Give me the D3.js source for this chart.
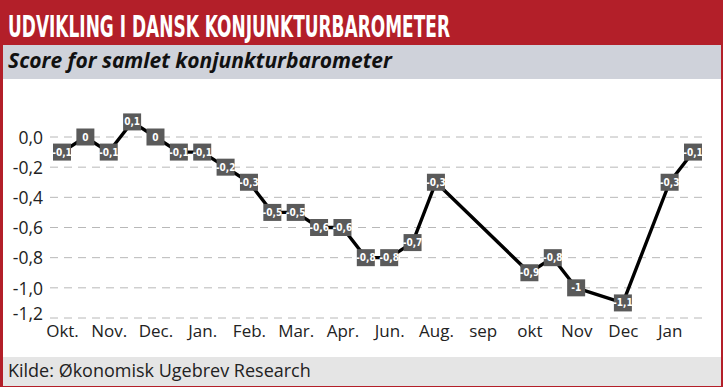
<!DOCTYPE html>
<html>
<head>
<meta charset="utf-8">
<script src="https://cdn.jsdelivr.net/npm/d3@7"></script>
<style>
  html, body { margin: 0; padding: 0; background: #fff; }
  svg { display: block; }
</style>
</head>
<body>
<svg id="chart" width="723" height="387"></svg>
<script>
// Month labels on the x axis (every other slot carries a label)
const tickLabels = ["Okt.", "Nov.", "Dec.", "Jan.", "Feb.", "Mar.", "Apr.", "Jun.", "Aug.", "sep", "okt", "Nov", "Dec", "Jan"];
const tickSlots = [0, 2, 4, 6, 8, 10, 12, 14, 16, 18, 20, 22, 24, 26];

// Survey rounds: time slot of each observation and its score
const pointSlots = [0, 1, 2, 3, 4, 5, 6, 7, 8, 9, 10, 11, 12, 13, 14, 15, 16, 20, 21, 22, 24, 26, 27];
const scores = [-0.1, 0, -0.1, 0.1, 0, -0.1, -0.1, -0.2, -0.3, -0.5, -0.5, -0.6, -0.6, -0.8, -0.8, -0.7, -0.3, -0.9, -0.8, -1, -1.1, -0.3, -0.1];

// Value axis ticks
const yTicks = [0, -0.2, -0.4, -0.6, -0.8, -1.0, -1.2];

const W = 723, H = 387;
const red = "#b31f29";
const svg = d3.select("#chart");
const bodyFont = "'Open Sans', 'Noto Sans', sans-serif";

// Frame and header bands
svg.append("rect").attr("x", 0).attr("y", 0).attr("width", W).attr("height", H).attr("fill", red);
svg.append("rect").attr("x", 3).attr("y", 45).attr("width", W - 5).attr("height", H - 46).attr("fill", "#ffffff");
svg.append("rect").attr("x", 3).attr("y", 45).attr("width", W - 5).attr("height", 34).attr("fill", "#cfd2da");
svg.append("rect").attr("x", 3).attr("y", 357).attr("width", W - 5).attr("height", 29).attr("fill", "#e5e5e5");

svg.append("text")
  .attr("x", 8).attr("y", 37)
  .attr("fill", "#ffffff")
  .attr("font-family", "'Liberation Sans Narrow', 'DejaVu Sans Condensed', sans-serif")
  .attr("font-weight", "bold")
  .attr("font-size", 30)
  .attr("textLength", 442)
  .attr("lengthAdjust", "spacingAndGlyphs")
  .text("UDVIKLING I DANSK KONJUNKTURBAROMETER");

svg.append("text")
  .attr("x", 8).attr("y", 68)
  .attr("fill", "#111")
  .attr("font-family", bodyFont)
  .attr("font-weight", "bold")
  .attr("font-style", "italic")
  .attr("font-size", 21)
  .text("Score for samlet konjunkturbarometer");

svg.append("text")
  .attr("x", 8).attr("y", 377)
  .attr("fill", "#222")
  .attr("font-family", bodyFont)
  .attr("font-size", 18)
  .text("Kilde: Økonomisk Ugebrev Research");

// Scales
const x = d3.scaleLinear().domain([0, 27]).range([62, 693]);
const y = d3.scaleLinear().domain([-1.2, 0]).range([318, 137]);

const da = d3.formatLocale({ decimal: ",", thousands: ".", grouping: [3], currency: ["", " kr."], minus: "-" });
const yFmt = da.format(".1f");

// Dashed gridlines
svg.append("g").selectAll("line")
  .data(yTicks)
  .join("line")
  .attr("x1", 50).attr("x2", 705)
  .attr("y1", d => y(d)).attr("y2", d => y(d))
  .attr("stroke", "#b8b8b8")
  .attr("stroke-width", 1)
  .attr("stroke-dasharray", "8,6");

// Y axis labels
const yAxis = svg.append("g")
  .attr("transform", "translate(43,0)")
  .call(d3.axisLeft(y).tickValues(yTicks).tickFormat(yFmt).tickSize(0).tickPadding(0));
yAxis.select(".domain").remove();
yAxis.selectAll("text")
  .attr("font-family", bodyFont)
  .attr("font-size", 17.5)
  .attr("fill", "#222")
  .attr("dy", "0.36em");
yAxis.selectAll(".tick").filter(d => d === -1.2).select("text").attr("dy", "0.1em");

// X axis labels
const xAxis = svg.append("g")
  .attr("transform", "translate(0,321)")
  .call(d3.axisBottom(x).tickValues(tickSlots).tickFormat((d, i) => tickLabels[i]).tickSize(0).tickPadding(0));
xAxis.select(".domain").remove();
xAxis.selectAll("text")
  .attr("font-family", bodyFont)
  .attr("font-size", 17)
  .attr("fill", "#222")
  .attr("dy", "0.95em");

// Score line
const pts = scores.map((v, i) => ({ slot: pointSlots[i], v }));
svg.append("path")
  .datum(pts)
  .attr("fill", "none")
  .attr("stroke", "#000")
  .attr("stroke-width", 3.4)
  .attr("stroke-linejoin", "round")
  .attr("d", d3.line().x(d => x(d.slot)).y(d => y(d.v)));

// Value markers with labels
const lblFmt = v => String(v).replace(".", ",");
const mk = svg.append("g").selectAll("g")
  .data(pts)
  .join("g")
  .attr("transform", d => `translate(${x(d.slot)},${y(d.v)})`);
mk.append("rect")
  .attr("x", -9).attr("y", -8.5).attr("width", 18).attr("height", 17)
  .attr("fill", "#5a5a5a");
mk.append("text")
  .attr("text-anchor", "middle")
  .attr("dy", "0.35em")
  .attr("fill", "#fff")
  .attr("font-family", "'Liberation Sans Narrow', 'DejaVu Sans Condensed', sans-serif")
  .attr("font-weight", "bold")
  .attr("font-size", 10)
  .text(d => lblFmt(d.v));
</script>
</body>
</html>
